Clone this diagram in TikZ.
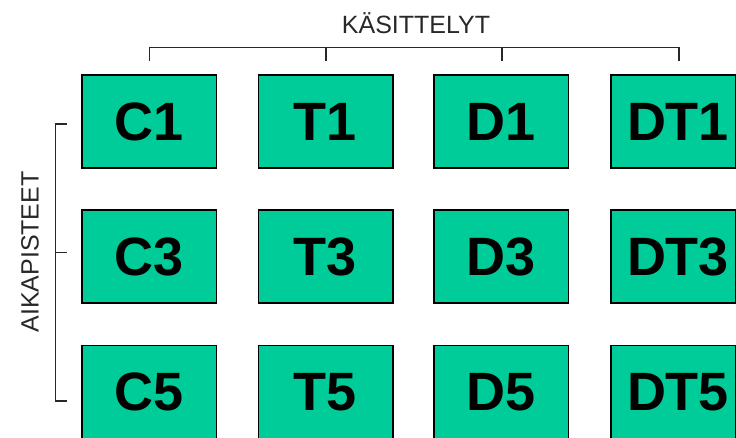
\documentclass[tikz,border=0pt]{standalone}
\usepackage{fontspec}
\setmainfont{Liberation Sans}
\definecolor{boxgreen}{RGB}{0,204,153}
\definecolor{brkgray}{RGB}{40,40,40}
\begin{document}
\begin{tikzpicture}[x=1pt,y=-1pt,
  cell/.style={draw=black, fill=boxgreen, line width=1.5pt, minimum width=134.5pt,
    minimum height=93pt, inner sep=0pt, font=\fontsize{54}{60}\selectfont\bfseries},
  celltext/.style={inner sep=0pt, font=\fontsize{54}{60}\selectfont\bfseries},
  brk/.style={line width=1.4pt, draw=brkgray},
  ttl/.style={font=\fontsize{25}{30}\selectfont, inner sep=0pt, text=brkgray}]
\path[use as bounding box, clip] (0,0) rectangle (736,438);
% cells
\foreach \r/\ry in {1/121.5,3/256.5,5/392} {
  \node[cell] (C\r) at (149,\ry) {C\r};
  \node[cell] (T\r) at (325.5,\ry) {T\r};
  \node[cell] (D\r) at (501,\ry) {D\r};
  \node[cell, minimum width=124.5pt] (DT\r) at (673.25,\ry) {};
  \node[celltext] (DT\r t) at (678,\ry) {DT\r};
}
% top bracket
\coordinate (ta) at (149.5,47.5);
\coordinate (tb) at (679,47.5);
\draw[brk] (149.5,61) -- (ta) -- (tb) -- (679,61);
\draw[brk] (326,47.5) -- (326,61);
\draw[brk] (502,47.5) -- (502,61);
\node[ttl] (kas) at (416,23) {KÄSITTELYT};
% left bracket
\coordinate (la) at (55.5,124);
\coordinate (lb) at (55.5,401);
\draw[brk] (66.5,124) -- (la) -- (lb) -- (66.5,401);
\draw[brk] (55.5,252.5) -- (66.5,252.5);
\node[ttl, rotate=90] (aika) at (30,252) {AIKAPISTEET};
\end{tikzpicture}
\end{document}
